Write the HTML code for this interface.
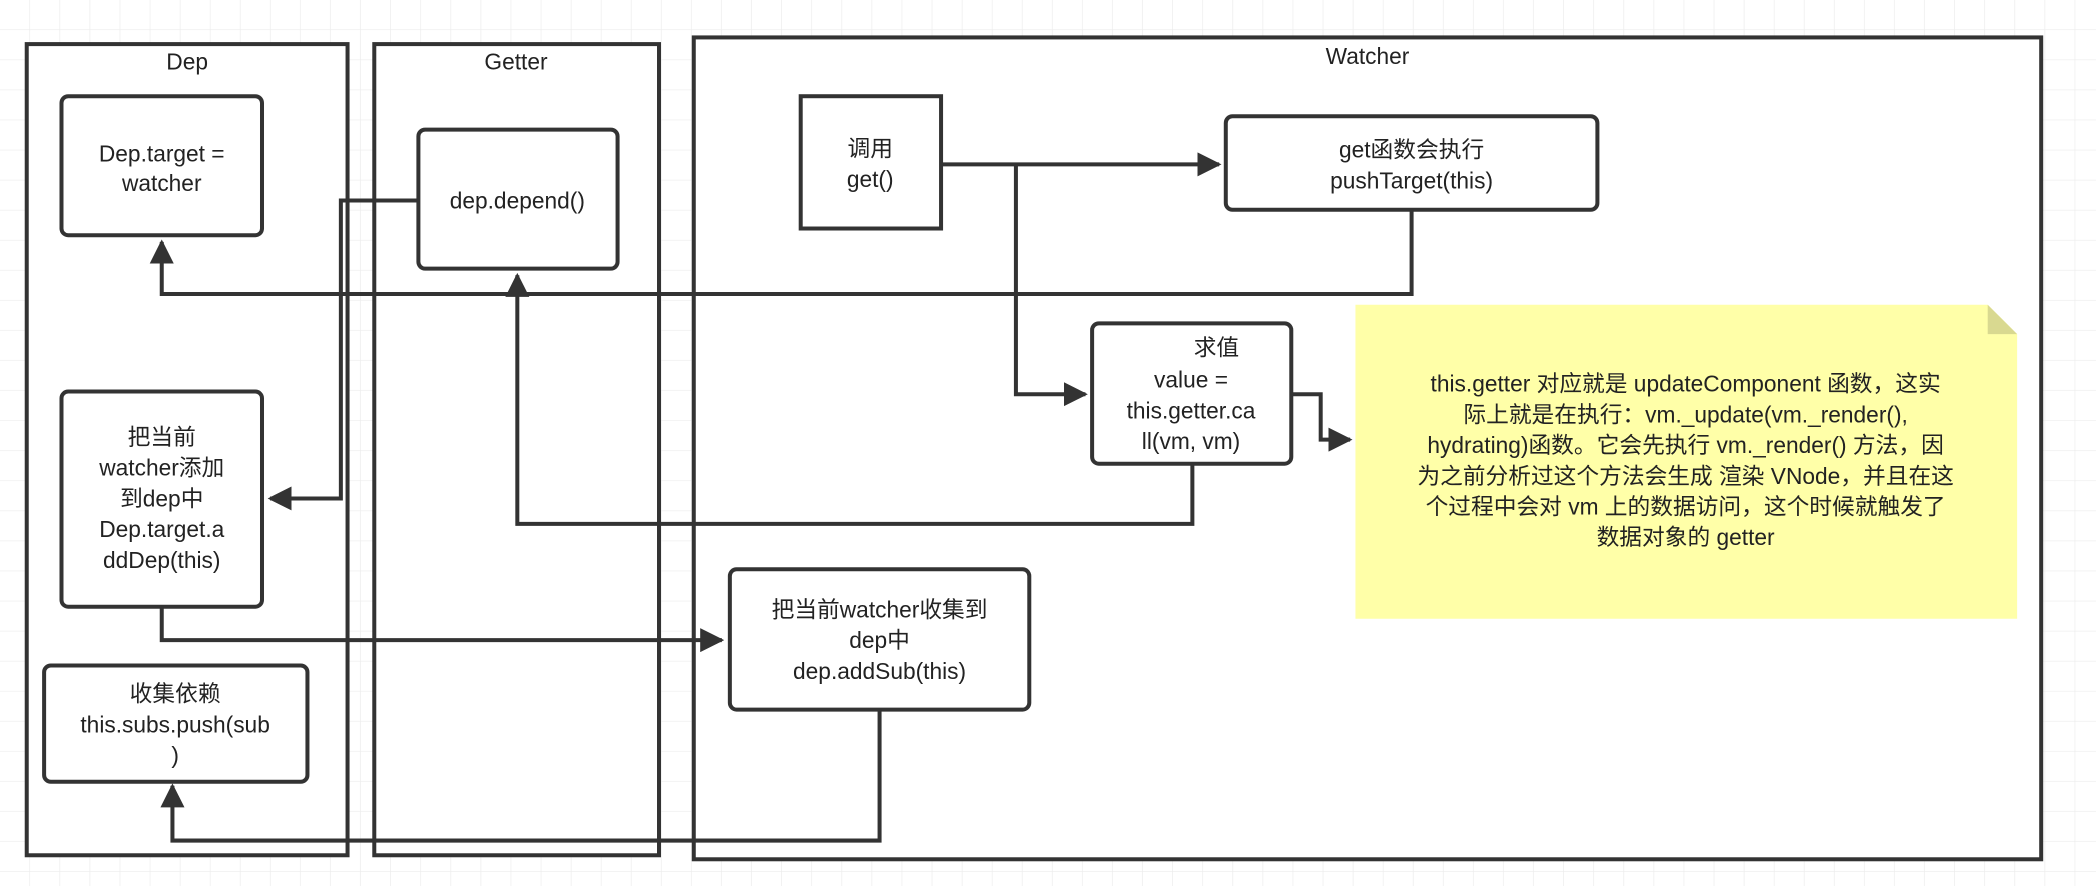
<!DOCTYPE html>
<html><head><meta charset="utf-8"><style>
html,body{margin:0;padding:0;background:#fff;}
svg{display:block;}
text{font-family:"Liberation Sans","Noto Sans CJK SC",sans-serif;font-size:17px;fill:#222;text-anchor:middle;}
</style></head><body>
<svg width="2096" height="886" viewBox="0 0 1568 663" preserveAspectRatio="none" xmlns="http://www.w3.org/2000/svg">
<defs>
<pattern id="g" width="22.5" height="22.5" patternUnits="userSpaceOnUse">
<path d="M22.5 0V22.5H0" fill="none" stroke="#ececec" stroke-width="1"/>
</pattern>
<marker id="a" viewBox="0 0 10 10" refX="9" refY="5" markerWidth="6" markerHeight="6" orient="auto-start-reverse" markerUnits="strokeWidth"><path d="M0 0L10 5L0 10z" fill="#333"/></marker>
</defs>
<rect width="1568" height="663" fill="url(#g)"/>
<g fill="#fff" stroke="#333" stroke-width="3">
<rect x="20" y="33" width="240" height="607"/>
<rect x="280" y="33" width="213" height="607"/>
<rect x="519" y="28" width="1008" height="615"/>
</g>
<text x="140" y="52">Dep</text>
<text x="386" y="52">Getter</text>
<text x="1023" y="48">Watcher</text>
<g fill="#fff" stroke="#333" stroke-width="3">
<rect x="46" y="72" width="150" height="104" rx="5"/>
<rect x="313" y="97" width="149" height="104" rx="5"/>
<rect x="599" y="72" width="105" height="99"/>
<rect x="917" y="87" width="278" height="70" rx="5"/>
<rect x="817" y="242" width="149" height="105" rx="5"/>
<rect x="46" y="293" width="150" height="161" rx="5"/>
<rect x="546" y="426" width="224" height="105" rx="5"/>
<rect x="33" y="498" width="197" height="87" rx="5"/>
</g>
<path d="M1014 228H1487L1509 250V463H1014z" fill="#ffffa8"/>
<path d="M1487 228V250H1509z" fill="#d9d990"/>
<g fill="none" stroke="#333" stroke-width="3" marker-end="url(#a)">
<path d="M705 123H912"/>
<path d="M760 123V295H812"/>
<path d="M1056 157V220H121V181"/>
<path d="M312 150H255V373H202"/>
<path d="M892 347V392H387V206"/>
<path d="M121 454V479H540"/>
<path d="M658 531V629H129V588"/>
<path d="M966 295H988V329H1010"/>
</g>
<text x="121" y="121">Dep.target =</text>
<text x="121" y="143">watcher</text>
<text x="387" y="156">dep.depend()</text>
<text x="651" y="117">调用</text>
<text x="651" y="140">get()</text>
<text x="1056" y="118">get函数会执行</text>
<text x="1056" y="141">pushTarget(this)</text>
<text x="910" y="266">求值</text>
<text x="891" y="290">value =</text>
<text x="891" y="313">this.getter.ca</text>
<text x="891" y="336">ll(vm, vm)</text>
<text x="121" y="333">把当前</text>
<text x="121" y="356">watcher添加</text>
<text x="121" y="379">到dep中</text>
<text x="121" y="402">Dep.target.a</text>
<text x="121" y="425">ddDep(this)</text>
<text x="658" y="462">把当前watcher收集到</text>
<text x="658" y="485">dep中</text>
<text x="658" y="508">dep.addSub(this)</text>
<text x="131" y="525">收集依赖</text>
<text x="131" y="548">this.subs.push(sub</text>
<text x="131" y="571">)</text>
<text x="1261" y="293">this.getter 对应就是 updateComponent 函数，这实</text>
<text x="1261" y="316">际上就是在执行：vm._update(vm._render(),</text>
<text x="1261" y="339">hydrating)函数。它会先执行 vm._render() 方法，因</text>
<text x="1261" y="362">为之前分析过这个方法会生成 渲染 VNode，并且在这</text>
<text x="1261" y="385">个过程中会对 vm 上的数据访问，这个时候就触发了</text>
<text x="1261" y="408">数据对象的 getter</text>
</svg>
</body></html>
